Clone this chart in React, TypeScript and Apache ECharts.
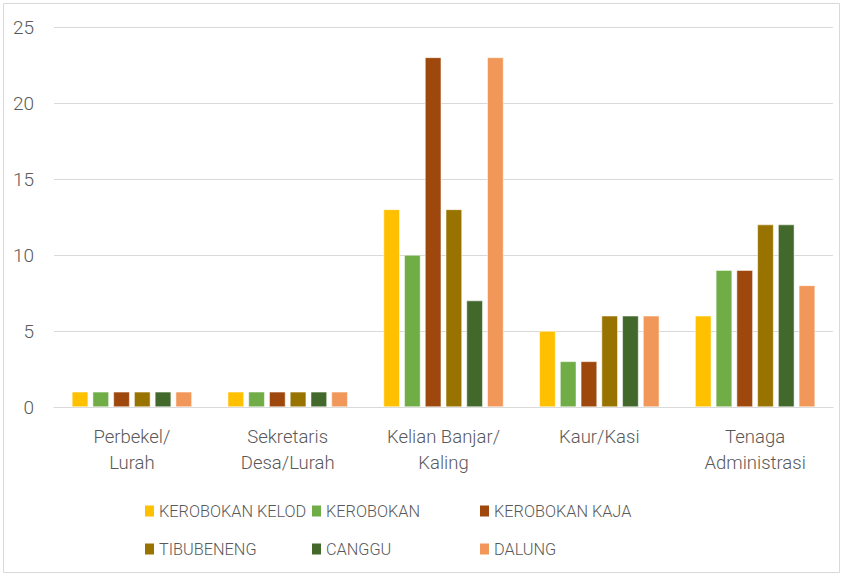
import React, { useEffect, useRef } from "react";
import * as echarts from "echarts";

const categories = ["Perbekel/\nLurah", "Sekretaris\nDesa/Lurah", "Kelian Banjar/\nKaling", "Kaur/Kasi", "Tenaga\nAdministrasi"];
const seriesNames = ["KEROBOKAN KELOD", "KEROBOKAN", "KEROBOKAN KAJA", "TIBUBENENG", "CANGGU", "DALUNG"];
const kerobokanKelod = [1, 1, 13, 5, 6];
const kerobokan = [1, 1, 10, 3, 9];
const kerobokanKaja = [1, 1, 23, 3, 9];
const tibubeneng = [1, 1, 13, 6, 12];
const canggu = [1, 1, 7, 6, 12];
const dalung = [1, 1, 23, 6, 8];
const colors = ["#FFC000", "#70AD47", "#9E480E", "#997300", "#43682B", "#F1975A"];
const yTicks = [0, 5, 10, 15, 20, 25];

const FONT = "Roboto, sans-serif";
const TXT = "#595959";

export default function App() {
  const ref = useRef<HTMLDivElement>(null);
  useEffect(() => {
    const chart = echarts.init(ref.current!, null, { renderer: "svg" });
    const values = [kerobokanKelod, kerobokan, kerobokanKaja, tibubeneng, canggu, dalung];
    const legendPos = [
      [143, 503], [310, 503], [478, 503],
      [143, 541], [310, 541], [478, 541],
    ];
    chart.setOption({
      animation: false,
      backgroundColor: "#fff",
      color: colors,
      textStyle: { fontFamily: FONT },
      grid: { left: 54, right: 10, top: 27, bottom: 169 },
      graphic: [
        {
          type: "rect",
          shape: { x: 3.5, y: 3.5, width: 836, height: 569 },
          style: { fill: "none", stroke: "#D9D9D9", lineWidth: 1 },
          silent: true,
        },
      ],
      legend: seriesNames.map((n, i) => ({
        data: [n],
        left: legendPos[i][0],
        top: legendPos[i][1],
        itemWidth: 11,
        itemHeight: 13,
        itemGap: 0,
        icon: "rect",
        textStyle: { color: TXT, fontSize: 16.3, fontWeight: 300, fontFamily: FONT, padding: [0, 0, 0, -1] },
        padding: 0,
      })),
      xAxis: {
        type: "category",
        data: categories,
        axisLine: { lineStyle: { color: "#D9D9D9" } },
        axisTick: { show: false },
        axisLabel: { color: TXT, fontSize: 18.5, fontWeight: 300, fontFamily: FONT, lineHeight: 26, margin: 17, interval: 0 },
      },
      yAxis: {
        type: "value",
        min: 0,
        max: 25,
        interval: 5,
        axisLine: { show: false },
        axisTick: { show: false },
        splitLine: { lineStyle: { color: "#D9D9D9" } },
        axisLabel: { color: TXT, fontSize: 19, fontWeight: 300, fontFamily: FONT, margin: 20 },
      },
      series: seriesNames.map((n, i) => ({
        name: n,
        type: "bar",
        data: values[i],
        barGap: "28%",
        barCategoryGap: "23%",
        itemStyle: { color: colors[i], borderColor: "#fff", borderWidth: 0.5 },
      })),
    });
    return () => chart.dispose();
  }, []);
  return <div ref={ref} style={{ position: "fixed", left: 0, top: 0, width: 843, height: 576 }} />;
}
